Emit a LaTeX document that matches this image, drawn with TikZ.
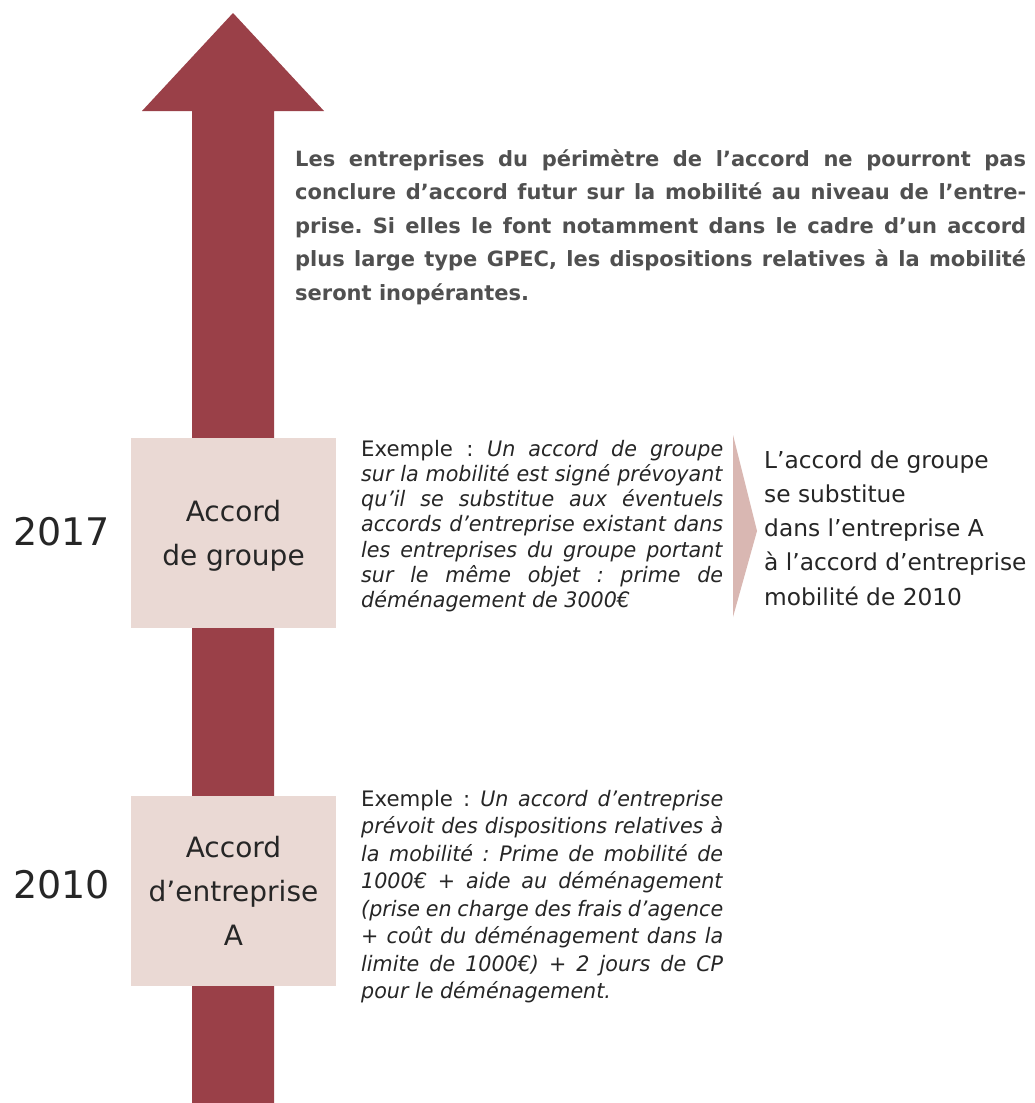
\documentclass[tikz,border=0pt]{standalone}
\usepackage{fontspec}
\setmainfont{DejaVu Sans}[ItalicFeatures={FakeStretch=0.97}]
\frenchspacing
\definecolor{arrowred}{HTML}{9A4048}
\definecolor{boxfill}{HTML}{EAD9D4}
\definecolor{chevfill}{HTML}{D9B7B2}
\definecolor{txt}{HTML}{262626}
\definecolor{toptxt}{HTML}{505050}
\newcommand\jl[1]{\hbox to \hsize{#1}}
\begin{document}
\begin{tikzpicture}[x=1pt,y=-1pt,
  yearbox/.style={fill=boxfill, draw=none, minimum width=205pt, minimum height=190pt, inner sep=0pt},
  boxtext/.style={inner sep=0pt, align=center, text=txt, font=\fontsize{28}{44}\selectfont},
  yearlabel/.style={anchor=base west, inner sep=0pt, text=txt, font=\fontsize{38}{40}\selectfont},
  textblock/.style={anchor=base west, inner sep=0pt, text=txt}]
\useasboundingbox (0,0) rectangle (1034,1103);
\fill[white] (0,0) rectangle (1034,1103);
% timeline arrow
\fill[arrowred] (192,1103) -- (192,111) -- (142,111) -- (233,13) -- (324,111) -- (274,111) -- (274,1103) -- cycle;
% boxes
\node[yearbox] (groupe) at (233.5,533) {};
\node[boxtext] (groupetxt) at ([yshift=-3pt]groupe.center) {Accord\\de groupe};
\node[yearbox] (entrA) at (233.5,891) {};
\node[boxtext] (entrAtxt) at (entrA.center) {Accord\\d’entreprise\\A};
% years
\node[yearlabel] (y2017) at (13,545) {2017};
\node[yearlabel] (y2010) at (13,898) {2010};
% top text
\node[textblock, text=toptxt] (top) at (295,166) {\vtop{\hsize=731pt\bfseries\fontsize{21}{33.5}\selectfont
\jl{Les entreprises du périmètre de l’accord ne pourront pas}
\jl{conclure d’accord futur sur la mobilité au niveau de l’entre-}
\jl{prise. Si elles le font notamment dans le cadre d’un accord}
\jl{plus large type GPEC, les dispositions relatives à la mobilité}
\hbox{seront inopérantes.}}};
% example 1
\node[textblock] (ex1) at (361,456) {\vtop{\hsize=362pt\fontsize{21.3}{25.3}\selectfont
\jl{Exemple : \textit{Un accord de groupe}}
\jl{\textit{sur la mobilité est signé prévoyant}}
\jl{\textit{qu’il se substitue aux éventuels}}
\jl{\textit{accords d’entreprise existant dans}}
\jl{\textit{les entreprises du groupe portant}}
\jl{\textit{sur le même objet : prime de}}
\hbox{\textit{déménagement de 3000€}}}};
% chevron
\fill[chevfill] (733,435) -- (757,531) -- (733,617) -- cycle;
% result text
\node[textblock] (res) at (764,468) {\vtop{\hsize=270pt\fontsize{23.3}{34.3}\selectfont
\hbox{L’accord de groupe}
\hbox{se substitue}
\hbox{dans l’entreprise A}
\hbox{à l’accord d’entreprise}
\hbox{mobilité de 2010}}};
% example 2
\node[textblock] (ex2) at (361,806) {\vtop{\hsize=362pt\fontsize{21.3}{27.5}\selectfont
\jl{Exemple : \textit{Un accord d’entreprise}}
\jl{\textit{prévoit des dispositions relatives à}}
\jl{\textit{la mobilité : Prime de mobilité de}}
\jl{\textit{1000€ + aide au déménagement}}
\jl{\textit{(prise en charge des frais d’agence}}
\jl{\textit{+ coût du déménagement dans la}}
\jl{\textit{limite de 1000€) + 2 jours de CP}}
\hbox{\textit{pour le déménagement.}}}};
\end{tikzpicture}
\end{document}
